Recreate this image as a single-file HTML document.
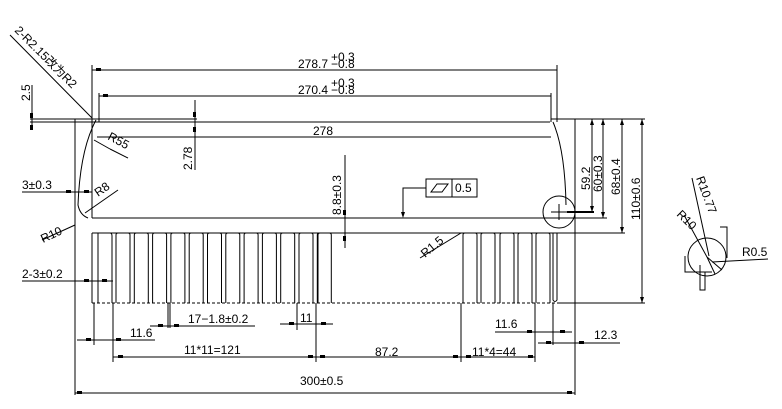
<!DOCTYPE html>
<html><head><meta charset="utf-8"><style>
body{margin:0;background:#fff}
svg{display:block}
text{font-family:"Liberation Sans","Noto Sans CJK SC",sans-serif;font-size:12px;fill:#000}
</style></head><body>
<svg width="782" height="409" viewBox="0 0 782 409" xmlns="http://www.w3.org/2000/svg">
<rect width="782" height="409" fill="#fff"/>
<g stroke="#000" stroke-width="1" fill="none">
<line x1="75" y1="119" x2="75" y2="395"/>
<line x1="75" y1="119" x2="92" y2="119"/>
<line x1="92" y1="119" x2="92" y2="218"/>
<line x1="30" y1="119" x2="197" y2="119"/>
<line x1="30" y1="122" x2="197" y2="122"/>
<line x1="97" y1="122" x2="550" y2="122"/>
<line x1="92" y1="218" x2="607" y2="218"/>
<line x1="92" y1="233" x2="625" y2="233"/>
<path d="M96,120 Q80,150 78,205 Q80,215 88,218"/>
<path d="M553,122 Q565,150 566,205"/>
<line x1="551" y1="93" x2="551" y2="122"/>
<line x1="557" y1="65" x2="557" y2="122"/>
<line x1="551" y1="119" x2="645" y2="119"/>
<line x1="575" y1="119" x2="575" y2="395"/>
<circle cx="559" cy="212" r="16"/>
<line x1="551" y1="212" x2="567" y2="212"/><line x1="559" y1="204" x2="559" y2="220"/>
<line x1="92" y1="233" x2="92" y2="303"/>
<path d="M98,233 V303 M553,233 V300 Q555,303 557,300 V233"/>
<line x1="92" y1="303" x2="575" y2="303" stroke-dasharray="3,2"/>
<path d="M98,233 H110 Q112,233 112,236 V303"/>
<g id="g">
<path d="M116,303 V235 Q116,233 118,233 H128 Q130,233 130,235 V303"/>
</g>
<use href="#g" x="18.3"/><use href="#g" x="36.6"/><use href="#g" x="54.9"/><use href="#g" x="73.2"/><use href="#g" x="91.5"/><use href="#g" x="109.8"/><use href="#g" x="128.1"/><use href="#g" x="146.4"/><use href="#g" x="164.7"/><use href="#g" x="183"/><use href="#g" x="201.3"/><path d="M318,303 V235 Q318,233 320,233"/>
<use href="#g" x="347"/><use href="#g" x="365"/><use href="#g" x="384"/><use href="#g" x="402"/><use href="#g" x="420"/>
<line x1="92" y1="65" x2="92" y2="119"/>
<line x1="99" y1="93" x2="99" y2="122"/>
<line x1="92" y1="70" x2="557" y2="70"/>
<line x1="99" y1="96" x2="551" y2="96"/>
<line x1="97" y1="137" x2="551" y2="137"/>
<line x1="195" y1="100" x2="195" y2="170"/>
<line x1="32" y1="85" x2="32" y2="130"/>
<line x1="10" y1="35" x2="92" y2="118"/>
<line x1="22" y1="192" x2="92" y2="192"/>
<line x1="85" y1="213" x2="118" y2="190"/>
<line x1="42" y1="240" x2="75" y2="225"/>
<line x1="22" y1="281" x2="113" y2="281"/>
<line x1="110" y1="149" x2="94" y2="140"/><line x1="110" y1="149" x2="128" y2="158"/>
<line x1="345" y1="155" x2="345" y2="248"/>
<line x1="420" y1="258" x2="461" y2="233"/>
<rect x="426" y="179" width="51" height="18"/><line x1="452" y1="179" x2="452" y2="197"/>
<path d="M426,188 H403 V214"/>
<path d="M431,192 L442,192 L448,184 L437,184 Z"/>
<line x1="592" y1="119" x2="592" y2="212"/>
<line x1="603" y1="119" x2="603" y2="218"/>
<line x1="622" y1="119" x2="622" y2="233"/>
<line x1="642" y1="119" x2="642" y2="303"/>
<line x1="567" y1="212" x2="594" y2="212" stroke-width="2"/>
<line x1="557" y1="303" x2="645" y2="303"/>
<path d="M94,303 V345 M113,303 V362 M168,303 V328 M170,303 V328 M297,303 V330 M316,303 V362 M461,303 V362 M535,303 V362 M553,303 V345"/>
<line x1="77" y1="340" x2="155" y2="340"/>
<line x1="150" y1="326" x2="255" y2="326"/>
<line x1="280" y1="324" x2="333" y2="324"/>
<line x1="113" y1="357" x2="461" y2="357"/>
<line x1="461" y1="357" x2="535" y2="357"/>
<line x1="495" y1="332" x2="572" y2="332"/>
<line x1="538" y1="343" x2="620" y2="343"/>
<line x1="75" y1="393" x2="575" y2="393"/>
<circle cx="707" cy="257" r="19"/>
<line x1="692" y1="178" x2="709" y2="256"/>
<line x1="684" y1="215" x2="707" y2="257"/>
<line x1="712" y1="262" x2="768" y2="259"/>
<path d="M720,227 H727 V258 M700,265 V290 H705 V272 M685,256 V272 H712"/>
<line x1="707" y1="257" x2="722" y2="270"/><line x1="707" y1="257" x2="715" y2="274"/>
</g>
<g fill="#000">
<rect x="96" y="68" width="5" height="3"/><rect x="103" y="94" width="5" height="3"/>
<rect x="30" y="113" width="3" height="5"/><rect x="30" y="125" width="3" height="5"/>
<rect x="193" y="112" width="3" height="5"/><rect x="193" y="127" width="3" height="5"/>
<rect x="66" y="190" width="5" height="3"/><rect x="84" y="190" width="5" height="3"/>
<rect x="84" y="279" width="5" height="3"/><rect x="102" y="279" width="5" height="3"/>
<rect x="343" y="210" width="3" height="5"/><rect x="343" y="236" width="3" height="5"/>
<polygon points="401,212 405,212 403,218"/>
<polygon points="590,125 594,125 592,119"/><polygon points="590,206 594,206 592,212"/>
<polygon points="601,125 605,125 603,119"/><polygon points="601,212 605,212 603,218"/>
<polygon points="620,125 624,125 622,119"/><polygon points="620,227 624,227 622,233"/>
<polygon points="640,125 644,125 642,119"/><polygon points="640,297 644,297 642,303"/>
<rect x="86" y="338" width="5" height="3"/><rect x="116" y="338" width="5" height="3"/>
<rect x="158" y="324" width="5" height="3"/><rect x="174" y="324" width="5" height="3"/>
<rect x="289" y="322" width="5" height="3"/><rect x="321" y="322" width="5" height="3"/>
<rect x="118" y="355" width="5" height="3"/><rect x="308" y="355" width="5" height="3"/><rect x="320" y="355" width="5" height="3"/><rect x="453" y="355" width="5" height="3"/><rect x="466" y="355" width="5" height="3"/><rect x="528" y="355" width="5" height="3"/>
<rect x="527" y="330" width="5" height="3"/><rect x="560" y="330" width="5" height="3"/>
<rect x="546" y="341" width="5" height="3"/><rect x="579" y="341" width="5" height="3"/>
<rect x="77" y="391" width="5" height="3"/><rect x="567" y="391" width="5" height="3"/>
</g>
<text x="298" y="68" font-size="12">278.7</text><text x="331" y="61" font-size="8">+0.3</text><text x="331" y="68" font-size="8">−0.8</text>
<text x="298" y="94" font-size="12">270.4</text><text x="331" y="87" font-size="8">+0.3</text><text x="331" y="94" font-size="8">−0.8</text>
<text x="313" y="135" font-size="13">278</text>
<text transform="translate(14,31) rotate(45)" font-size="11">2-R2.15改为R2</text>
<text transform="translate(30,101) rotate(-90)">2.5</text>
<text transform="translate(192,170) rotate(-90)">2.78</text>
<text transform="translate(107,139) rotate(28)">R55</text>
<text x="22" y="189">3±0.3</text>
<text transform="translate(98,197) rotate(-35)">R8</text>
<text transform="translate(43,243) rotate(-25)">R10</text>
<text x="22" y="278">2-3±0.2</text>
<text transform="translate(341,215) rotate(-90)">8.8±0.3</text>
<text x="455" y="192" font-size="12">0.5</text>
<text transform="translate(425,258) rotate(-40)">R1.5</text>
<text transform="translate(590,190) rotate(-90)">59.2</text>
<text transform="translate(602,192) rotate(-90)">60±0.3</text>
<text transform="translate(620,195) rotate(-90)">68±0.4</text>
<text transform="translate(640,220) rotate(-90)">110±0.6</text>
<text transform="translate(696,178) rotate(70)">R10.77</text>
<text transform="translate(676,215) rotate(45)">R10</text>
<text x="742" y="256">R0.5</text>
<text x="130" y="337">11.6</text>
<text x="188" y="323">17−1.8±0.2</text>
<text x="300" y="322">11</text>
<text x="184" y="354">11*11=121</text>
<text x="375" y="356">87.2</text>
<text x="472" y="356">11*4=44</text>
<text x="495" y="328">11.6</text>
<text x="594" y="339">12.3</text>
<text x="300" y="385">300±0.5</text>
</svg>
</body></html>
